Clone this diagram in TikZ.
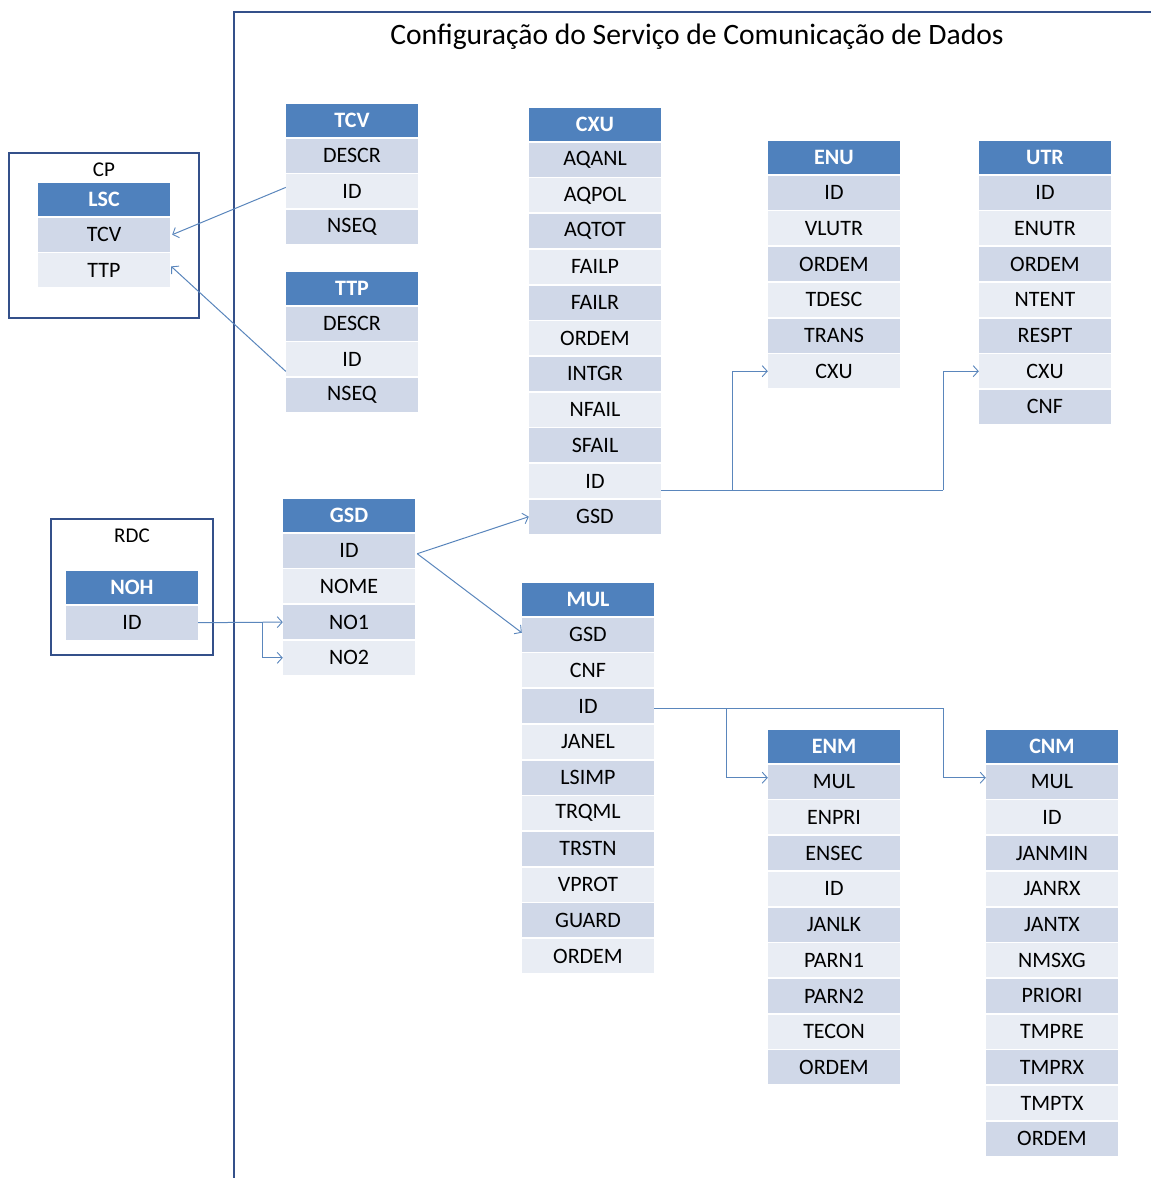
\documentclass[tikz,border=0pt]{standalone}
\usepackage{fontspec}
\setmainfont{Carlito}
\usetikzlibrary{arrows.meta}
\definecolor{hdrblue}{HTML}{4F81BD}
\definecolor{rowdark}{HTML}{D0D8E8}
\definecolor{rowlight}{HTML}{E9EDF4}
\definecolor{framec}{HTML}{34508A}
\definecolor{connc}{HTML}{5A86BC}
\tikzset{
  cellbase/.style={rectangle, inner sep=0pt, minimum width=132pt,
    font=\fontsize{22}{26}\selectfont},
  hdr/.style={cellbase, minimum height=33pt, fill=hdrblue, text=white,
    font=\fontsize{22}{26}\selectfont\bfseries},
  cell/.style={cellbase, minimum height=34pt, text=black},
  framebox/.style={draw=framec, line width=2.6pt},
  conn/.style={draw=connc, line width=1pt,
    -{Straight Barb[length=5pt,width=11pt,line width=0.9pt]}},
  plainconn/.style={draw=connc, line width=1pt},
  grouplabel/.style={font=\fontsize{21}{24}\selectfont, text=black}
}
% \dbtab{prefix}{x centre}{y centre of header}{header}{fields}
\newcommand\dbtab[5]{%
  \node[hdr] (#1-h) at (#2,#3) {#4};
  \foreach \r [count=\i] in {#5} {%
    \ifodd\i \def\rc{rowdark}\else\def\rc{rowlight}\fi
    \pgfmathsetmacro\yy{#3+35.7*\i}
    \node[cell, fill=\rc] (#1-\r) at (#2,\yy) {\r};
  }%
}
\begin{document}
\begin{tikzpicture}[x=1pt, y=-1pt]
\useasboundingbox (0,0) rectangle (1151,1178);

% outer frame and title
\draw[framebox] (234,1180) -- (234,12) -- (1153,12);
\node[font=\fontsize{29.6}{34}\selectfont, text=black] (title) at (697,37)
  {Configuração do Serviço de Comunicação de Dados};

% group boxes
\draw[framebox] (9,153) rectangle (199,318);
\node[grouplabel] (cplab) at (104,170) {CP};
\draw[framebox] (51,519) rectangle (213,655);
\node[grouplabel] (rdclab) at (132,536) {RDC};

% tables
\dbtab{lsc}{104}{199}{LSC}{TCV,TTP}
\dbtab{noh}{132}{587}{NOH}{ID}
\dbtab{tcv}{352}{120}{TCV}{DESCR,ID,NSEQ}
\dbtab{ttp}{352}{288}{TTP}{DESCR,ID,NSEQ}
\dbtab{gsd}{349}{515}{GSD}{ID,NOME,NO1,NO2}
\dbtab{cxu}{595}{124}{CXU}{AQANL,AQPOL,AQTOT,FAILP,FAILR,ORDEM,INTGR,NFAIL,SFAIL,ID,GSD}
\dbtab{enu}{834}{157}{ENU}{ID,VLUTR,ORDEM,TDESC,TRANS,CXU}
\dbtab{utr}{1045}{157}{UTR}{ID,ENUTR,ORDEM,NTENT,RESPT,CXU,CNF}
\dbtab{mul}{588}{599}{MUL}{GSD,CNF,ID,JANEL,LSIMP,TRQML,TRSTN,VPROT,GUARD,ORDEM}
\dbtab{enm}{834}{746}{ENM}{MUL,ENPRI,ENSEC,ID,JANLK,PARN1,PARN2,TECON,ORDEM}
\dbtab{cnm}{1052}{746}{CNM}{MUL,ID,JANMIN,JANRX,JANTX,NMSXG,PRIORI,TMPRE,TMPRX,TMPTX,ORDEM}

% connectors to CP
\draw[conn] ([yshift=4pt]tcv-ID.west) -- ([xshift=2pt]lsc-TCV.east);
\draw[conn] ([yshift=-12pt]ttp-ID.west) -- ([xshift=1pt,yshift=4pt]lsc-TTP.east);

% RDC node to GSD
\draw[conn] (noh-ID.east) -- (gsd-NO1.west);
\path (noh-ID.east) +(64,0) coordinate (nb);
\draw[conn] (nb) |- (gsd-NO2.west);

% GSD to CXU and MUL
\draw[conn] ([xshift=2pt,yshift=-3pt]gsd-ID.east) -- (cxu-GSD.west);
\draw[conn] ([xshift=2pt,yshift=-3pt]gsd-ID.east) -- ([yshift=2pt]mul-GSD.west);

% CXU to ENU and UTR
\path ([yshift=-9pt]cxu-ID.east) coordinate (c0) +(71,0) coordinate (c1) +(282,0) coordinate (c2);
\draw[plainconn] (c0) -- (c2);
\draw[conn] (c2) |- (utr-CXU.west);
\draw[conn] (c1) |- (enu-CXU.west);

% MUL to ENM and CNM
\path ([yshift=-2pt]mul-ID.east) coordinate (m0) +(72,0) coordinate (m1) +(289,0) coordinate (m2);
\draw[plainconn] (m0) -- (m2);
\draw[conn] (m2) |- ([yshift=4pt]cnm-MUL.west);
\draw[conn] (m1) |- ([yshift=4pt]enm-MUL.west);
\end{tikzpicture}
\end{document}
